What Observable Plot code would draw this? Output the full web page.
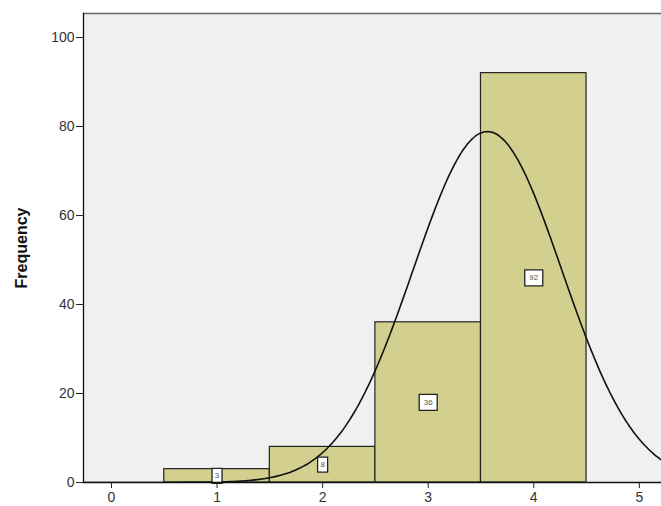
<!DOCTYPE html>
<html>
<head>
<meta charset="utf-8">
<script src="https://cdn.jsdelivr.net/npm/d3@7"></script>
<script src="https://cdn.jsdelivr.net/npm/@observablehq/plot@0.6"></script>
<style>
  html, body { margin: 0; padding: 0; background: #ffffff; }
  #chart svg { display: block; }
  g[aria-label="y-axis label"] text { font-weight: bold; font-size: 16px; fill: #111; }
</style>
</head>
<body>
<div id="chart"></div>
<script>
// Histogram categories (bin centres) and frequencies
const categories = [1, 2, 3, 4];
const frequencies = [3, 8, 36, 92];
const binWidth = 1;
const xTicks = [0, 1, 2, 3, 4, 5];
const yTicks = [0, 20, 40, 60, 80, 100];

const bars = categories.map((c, i) => ({
  x1: c - binWidth / 2, x2: c + binWidth / 2, y: frequencies[i], c, label: String(frequencies[i])
}));

// Normal curve fitted to the histogram data (SPSS-style)
const n = d3.sum(frequencies);
const mean = d3.sum(categories, (c, i) => c * frequencies[i]) / n;
const variance = d3.sum(categories, (c, i) => frequencies[i] * (c - mean) ** 2) / (n - 1);
const sd = Math.sqrt(variance);
const curve = d3.range(-0.3, 5.31, 0.02).map(x => ({
  x, y: n * binWidth * Math.exp(-0.5 * ((x - mean) / sd) ** 2) / (sd * Math.sqrt(2 * Math.PI))
}));

const boxSymbol = (w, h) => ({ draw(ctx) { ctx.rect(-w / 2, -h / 2, w, h); } });
const single = bars.filter(d => d.label.length === 1);
const double = bars.filter(d => d.label.length > 1);

const chart = Plot.plot({
  width: 661,
  height: 506,
  marginLeft: 83,
  marginRight: 0,
  marginTop: 13,
  marginBottom: 24,
  style: { fontFamily: "'Liberation Sans', Arial, sans-serif", fontSize: "14px", color: "#333", background: "transparent" },
  x: { domain: [-0.265, 5.21], label: null },
  y: { domain: [0, 105.4], label: null },
  marks: [
    Plot.frame({ fill: "#f0f0f0", stroke: null }),
    Plot.rectY(bars, { x1: "x1", x2: "x2", y: "y", fill: "#d3d08f", stroke: "#222", strokeWidth: 1.2 }),
    Plot.line(curve, { x: "x", y: "y", stroke: "#111", strokeWidth: 1.6, clip: true, curve: "natural" }),
    Plot.dot(double, { x: "c", y: d => d.y / 2, symbol: boxSymbol(18, 16), fill: "white", stroke: "#222", strokeWidth: 1.3 }),
    Plot.dot(single, { x: "c", y: d => d.y / 2, symbol: boxSymbol(10, 15), fill: "white", stroke: "#222", strokeWidth: 1.3 }),
    Plot.text(bars, { x: "c", y: d => d.y / 2, text: "label", fontSize: 8, fill: "#555" }),
    Plot.frame({ anchor: "top", stroke: "#666", strokeWidth: 1.3 }),
    Plot.frame({ anchor: "left", stroke: "#111", strokeWidth: 1.3 }),
    Plot.frame({ anchor: "bottom", stroke: "#111", strokeWidth: 1.3 }),
    Plot.axisX({ ticks: xTicks, tickFormat: "d", tickSize: 6, tickPadding: 4, stroke: "#222", fill: "#333", fontSize: 14, label: null }),
    Plot.axisY({ ticks: yTicks, tickFormat: "d", tickSize: 7, tickPadding: 2, stroke: "#222", fill: "#333", fontSize: 14, label: "Frequency", labelAnchor: "center", labelArrow: "none", labelOffset: 68 })
  ]
});
document.getElementById("chart").appendChild(chart);
</script>
</body>
</html>
